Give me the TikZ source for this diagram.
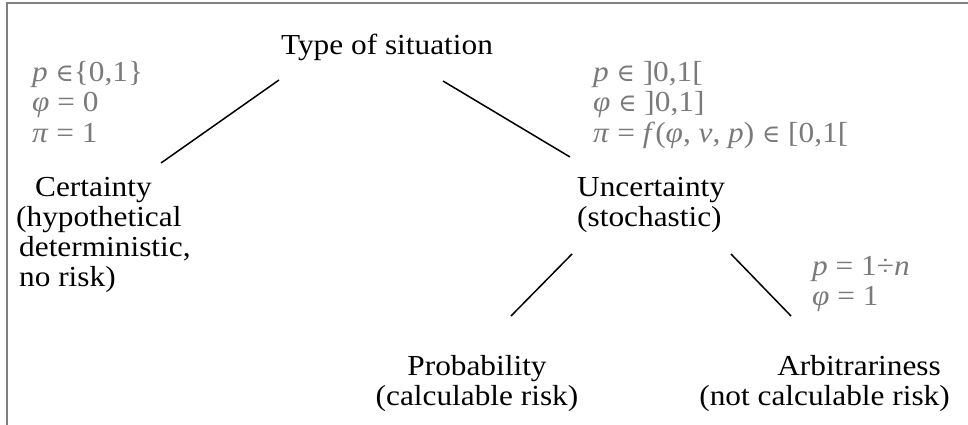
\documentclass[tikz,border=0pt]{standalone}
\usepackage{fontspec}
\setmainfont{Liberation Serif}[FakeStretch=1.08]
\newfontfamily\dvsfont{DejaVu Serif}[Scale=0.85]
\definecolor{frm}{HTML}{808080}
\definecolor{fmlc}{HTML}{7A7A7A}
\newcommand\iv[1]{\textit{#1}}
\newcommand\inn{{\dvsfont ∈}}
\begin{document}
\begin{tikzpicture}[x=1pt,y=-1pt,
  lbl/.style={inner sep=0pt, font=\fontsize{29}{30}\selectfont, text=black},
  fml/.style={lbl, text=fmlc, align=left, anchor=base west},
  edge/.style={line width=1.5pt, black},
]
\useasboundingbox (0,0) rectangle (968,425);
\draw[frm, line width=2pt] (7,425) -- (7,3) -- (968,3);

% multi-line nodes: the base anchor is the baseline of the last line
\node[lbl, anchor=base] (type) at (387,55) {Type of situation};
\node[fml] (fl) at (32,142) {\iv{p} \inn\{0,1\}\\ \iv{φ} = 0\\ \iv{π} = 1};
\node[fml] (fr) at (593,142) {\iv{p} \inn\ ]0,1[\\ \iv{φ} \inn\ ]0,1]\\ \iv{π} = \iv{f}(\iv{φ}, \iv{v}, \iv{p}) \inn\ [0,1[};

\node[lbl, align=left, anchor=base west] (cert) at (16,286)
  {\hspace*{19pt}Certainty\\(hypothetical\\\hspace*{3pt}deterministic,\\\hspace*{3pt}no risk)};
\node[lbl, align=left, anchor=base west] (unc) at (577,226) {Uncertainty\\(stochastic)};
\node[fml] (fr2) at (812,305) {\iv{p} = 1÷\iv{n}\\ \iv{φ} = 1};
\node[lbl, align=center, anchor=base] (prob) at (477,405) {Probability\\(calculable risk)};
\node[lbl, align=right, anchor=base east] (arb) at (950,405) {Arbitrariness\hspace*{9pt}\\(not calculable risk)};

\coordinate (l1a) at (279,80);  \coordinate (l1b) at (161,163);
\coordinate (r1a) at (443,81);  \coordinate (r1b) at (570,157);
\coordinate (l2a) at (572,254); \coordinate (l2b) at (511,316);
\coordinate (r2a) at (731,254); \coordinate (r2b) at (791,316);
\draw[edge] (l1a) -- (l1b);
\draw[edge] (r1a) -- (r1b);
\draw[edge] (l2a) -- (l2b);
\draw[edge] (r2a) -- (r2b);
\end{tikzpicture}
\end{document}
